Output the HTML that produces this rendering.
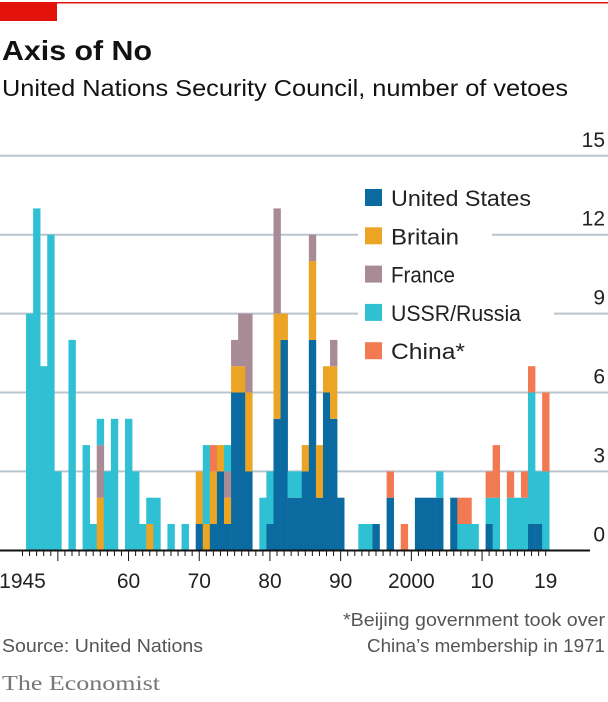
<!DOCTYPE html>
<html><head><meta charset="utf-8"><style>
body{margin:0;background:#fff;}
svg text{font-family:"Liberation Sans",sans-serif;}
</style></head><body>
<svg id="chart" width="608" height="697" xmlns="http://www.w3.org/2000/svg">
<rect x="0" y="2" width="608" height="1.5" fill="#e3120b"/>
<rect x="0" y="3" width="57" height="18" fill="#e3120b"/>
<text x="2" y="60" font-size="28" font-weight="bold" fill="#121212" textLength="150" lengthAdjust="spacingAndGlyphs">Axis of No</text>
<text x="2" y="96" font-size="23" fill="#121212" textLength="566" lengthAdjust="spacingAndGlyphs">United Nations Security Council, number of vetoes</text>
<g id="grid"></g>
<g id="bars"></g>
<g id="axis"></g>
<g id="legend"></g>
<text x="2" y="652" font-size="18" fill="#555" textLength="201" lengthAdjust="spacingAndGlyphs">Source: United Nations</text>
<text x="605" y="626" font-size="18" fill="#555" text-anchor="end" textLength="262" lengthAdjust="spacingAndGlyphs">*Beijing government took over</text>
<text x="605" y="652" font-size="18" fill="#555" text-anchor="end" textLength="238" lengthAdjust="spacingAndGlyphs">China’s membership in 1971</text>
<text x="2" y="690" font-size="21" fill="#777" font-family="Liberation Serif, serif" style="font-family:'Liberation Serif',serif" textLength="158" lengthAdjust="spacingAndGlyphs">The Economist</text>
</svg>
<script>
const years=[];for(let y=1945;y<=2019;y++)years.push(y);
const us=[0,0,0,0,0,0,0,0,0,0,0,0,0,0,0,0,0,0,0,0,0,0,0,0,0,1,0,1,3,1,6,6,3,0,0,1,5,8,2,2,3,8,2,6,5,2,0,0,0,0,1,0,2,0,0,0,2,2,2,2,0,2,0,0,0,0,1,0,0,0,0,0,1,1,0];
const uk=[0,0,0,0,0,0,0,0,0,0,0,2,0,0,0,0,0,0,1,0,0,0,0,0,0,2,1,2,1,1,1,1,3,0,0,0,4,1,0,0,1,3,2,1,2,0,0,0,0,0,0,0,0,0,0,0,0,0,0,0,0,0,0,0,0,0,0,0,0,0,0,0,0,0,0];
const fr=[0,0,0,0,0,0,0,0,0,0,0,2,0,0,0,0,0,0,0,0,0,0,0,0,0,0,0,0,0,1,1,2,3,0,0,0,4,0,0,0,0,1,0,0,1,0,0,0,0,0,0,0,0,0,0,0,0,0,0,0,0,0,0,0,0,0,0,0,0,0,0,0,0,0,0];
const ussr=[0,9,13,7,12,3,0,8,0,4,1,1,3,5,0,5,3,1,1,2,0,1,0,1,0,0,3,0,0,1,0,0,0,0,2,2,0,0,1,1,0,0,0,0,0,0,0,0,1,1,0,0,0,0,0,0,0,0,0,1,0,0,1,1,1,0,1,2,0,2,2,2,5,2,3];
const cn=[0,0,0,0,0,0,0,0,0,0,0,0,0,0,0,0,0,0,0,0,0,0,0,0,0,0,0,1,0,0,0,0,0,0,0,0,0,0,0,0,0,0,0,0,0,0,0,0,0,0,0,0,1,0,1,0,0,0,0,0,0,0,1,1,0,0,1,2,0,1,0,1,1,0,3];
const yTicks=[0,3,6,9,12,15];
const xLabels=[[1945,"1945"],[1960,"60"],[1970,"70"],[1980,"80"],[1990,"90"],[2000,"2000"],[2010,"10"],[2019,"19"]];
const series=[["united-states",us,"#0b6ba0"],["britain",uk,"#eba424"],["france",fr,"#a98b96"],["ussr-russia",ussr,"#30c0d3"],["china",cn,"#f27a52"]];
const NS="http://www.w3.org/2000/svg";
const X=y=>22.5+(y-1945)*7.07, BW=7.07;
const Y=v=>550.3-v*26.3;
function mk(t,a,p){const e=document.createElementNS(NS,t);for(const k in a)e.setAttribute(k,a[k]);p.appendChild(e);return e;}
const grid=document.getElementById('grid');
yTicks.forEach(v=>{
  if(v>0){const l=mk('line',{x1:0,x2:608,y1:Y(v),y2:Y(v),stroke:'#b8c5cf','stroke-width':2},grid);
  
  }
  const t=mk('text',{x:605,y:Y(v)-9,'font-size':21,fill:'#222','text-anchor':'end'},grid);t.textContent=v;
  
  
});
const bars=document.getElementById('bars');
years.forEach((yr,i)=>{let acc=0;
  series.forEach(([n,arr,c])=>{const v=arr[i];if(!v)return;
    const r=mk('rect',{x:X(yr)-BW/2,y:Y(acc+v),width:BW+0.3,height:Y(acc)-Y(acc+v),fill:c},bars);
    
    
    acc+=v;});
});
const ax=document.getElementById('axis');
const base=mk('line',{x1:0,x2:590,y1:550.5,y2:550.5,stroke:'#111','stroke-width':2},ax);


years.forEach(yr=>{const maj=yr%10===0;
  const l=mk('line',{x1:X(yr),x2:X(yr),y1:551,y2:maj?561:556,stroke:'#111','stroke-width':1},ax);
  
  });
xLabels.forEach(([yr,s])=>{const t=mk('text',{x:X(yr),y:588,'font-size':21,fill:'#222','text-anchor':'middle'},ax);t.textContent=s;
  
  });
const lg=document.getElementById('legend');
const names=["United States","Britain","France","USSR/Russia","China*"];
const widths=[170,98,94,160,104];
series.forEach(([n,a,c],i)=>{const cy=198+i*38.3;
  const bg=mk('rect',{x:358,y:cy-15,width:widths[i]+36,height:30,fill:'#fff'},lg);
  
  
  const s=mk('rect',{x:365,y:cy-9,width:17,height:17,fill:c},lg);
  
  
  const t=mk('text',{x:391,y:cy+8,'font-size':22,fill:'#222',textLength:widths[i]-30,lengthAdjust:'spacingAndGlyphs'},lg);t.textContent=names[i];
  
  });
</script>
</body></html>
